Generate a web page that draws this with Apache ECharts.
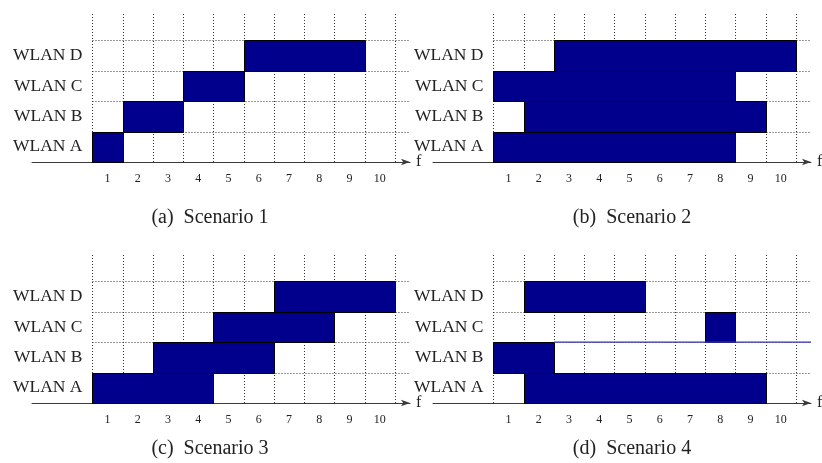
<!DOCTYPE html>
<html>
<head>
<meta charset="utf-8">
<script src="https://cdn.jsdelivr.net/npm/echarts@6/dist/echarts.min.js"></script>
<style>
html,body{margin:0;padding:0;background:#fff;}
#chart{width:822px;height:463px;}
</style>
</head>
<body>
<div id="chart"></div>
<script>
// ---- data ----
const wlanNames = ['WLAN A', 'WLAN B', 'WLAN C', 'WLAN D'];
const channels = [1, 2, 3, 4, 5, 6, 7, 8, 9, 10];
const scenarioTitles = ['(a)  Scenario 1', '(b)  Scenario 2', '(c)  Scenario 3', '(d)  Scenario 4'];
// first and last channel occupied by WLAN A..D
const s1Start = [1, 2, 4, 6];
const s1End   = [1, 3, 5, 9];
const s2Start = [1, 2, 1, 3];
const s2End   = [8, 9, 8, 10];
const s3Start = [1, 3, 5, 7];
const s3End   = [4, 6, 8, 10];
const s4Start = [2, 1, 8, 2];
const s4End   = [9, 2, 8, 5];
// extra thin line in scenario 4 (top edge of WLAN B row)
const s4LineX = [2.5, 11];
const s4LineY = [2, 2];

const starts = [s1Start, s2Start, s3Start, s4Start];
const ends = [s1End, s2End, s3End, s4End];

// ---- layout ----
const panels = [
  {left: 32, top: 12, tx: 205, ty: 203},
  {left: 433, top: 12, tx: 627, ty: 203},
  {left: 32, top: 253, tx: 205, ty: 434},
  {left: 433, top: 253, tx: 627, ty: 434}
];
const GW = 378, GH = 150;
const xMin = -1.5, xMax = 11, yMax = 4.93;
const pxPerUnit = GW / (xMax - xMin);
const serif = '"Liberation Serif", "DejaVu Serif", serif';
const barFill = '#00008c';

const vBounds = channels.map(c => c - 0.5).concat([channels[channels.length - 1] + 0.5]);
const hBounds = [1, 2, 3, 4];

const grids = [], xAxes = [], yAxes = [], series = [], titles = [];

panels.forEach((p, i) => {
  grids.push({left: p.left, top: p.top, width: GW, height: GH, containLabel: false, outerBoundsMode: 'none'});
  xAxes.push({
    type: 'value', gridIndex: i, min: xMin, max: xMax, interval: 0.5,
    name: 'f', nameLocation: 'end', nameGap: 6,
    nameTextStyle: {fontFamily: serif, fontSize: 16, color: '#222', padding: [2, 0, 0, 0]},
    axisLine: {show: true, symbol: ['none', 'arrow'], symbolSize: [5, 9], symbolOffset: [0, 0],
      lineStyle: {color: '#3a3a3a', width: 1}},
    axisTick: {show: false},
    splitLine: {show: false},
    axisLabel: {
      margin: 11, fontFamily: serif, fontSize: 12, color: '#222',
      formatter: v => (Number.isInteger(v) && channels.indexOf(v) >= 0) ? String(v) : ''
    }
  });
  yAxes.push({
    type: 'value', gridIndex: i, min: 0, max: yMax, interval: 0.5,
    offset: -(0.5 - xMin) * pxPerUnit,
    axisLine: {show: false}, axisTick: {show: false}, splitLine: {show: false},
    axisLabel: {
      margin: 10, fontFamily: serif, fontSize: 17.5, color: '#222',
      padding: [4, 0, 0, 0],
      formatter: v => {
        const k = Math.round(v - 0.5);
        return (Math.abs(v - 0.5 - k) < 1e-6 && k >= 0 && k < wlanNames.length) ? wlanNames[k] : '';
      }
    }
  });
  titles.push({
    text: scenarioTitles[i], left: p.tx, top: p.ty, textAlign: 'center',
    textStyle: {fontFamily: serif, fontSize: 20, fontWeight: 'normal', color: '#222'}
  });

  // dotted grid lines (vertical)
  series.push({
    type: 'custom', xAxisIndex: i, yAxisIndex: i, z: 1, silent: true,
    data: vBounds.map(v => [v]),
    encode: {x: 0},
    renderItem: (params, api) => {
      const a = api.coord([api.value(0), 0]);
      const b = api.coord([api.value(0), yMax]);
      const x = Math.round(a[0]) + 0.5;
      return {type: 'line', shape: {x1: x, y1: a[1], x2: x, y2: b[1]},
        style: {stroke: '#333', lineWidth: 1, lineDash: [1, 2]}};
    }
  });
  // dotted grid lines (horizontal)
  series.push({
    type: 'custom', xAxisIndex: i, yAxisIndex: i, z: 1, silent: true,
    data: hBounds.map(v => [v]),
    encode: {y: 0},
    renderItem: (params, api) => {
      const a = api.coord([vBounds[0], api.value(0)]);
      const b = api.coord([xMax, api.value(0)]);
      const y = Math.round(a[1]) + 0.5;
      return {type: 'line', shape: {x1: a[0], y1: y, x2: b[0], y2: y},
        style: {stroke: '#333', lineWidth: 1, lineDash: [1, 2]}};
    }
  });
  // WLAN occupancy bars
  series.push({
    type: 'custom', xAxisIndex: i, yAxisIndex: i, z: 3, silent: true,
    data: wlanNames.map((n, r) => [r, starts[i][r], ends[i][r]]),
    encode: {x: [1, 2], y: 0},
    renderItem: (params, api) => {
      const r = api.value(0), s = api.value(1), e = api.value(2);
      const p0 = api.coord([s - 0.5, r + 1]);
      const p1 = api.coord([e + 0.5, r]);
      const x0 = Math.round(p0[0]) + 0.5, y0 = Math.round(p0[1]) + 0.5;
      const x1 = Math.round(p1[0]) + 0.5, y1 = Math.round(p1[1]) + 0.5;
      return {type: 'rect', shape: {x: x0, y: y0, width: x1 - x0, height: y1 - y0},
        style: {fill: barFill, stroke: '#000', lineWidth: 1}};
    }
  });
});

// extra line in scenario 4
series.push({
  type: 'line', xAxisIndex: 3, yAxisIndex: 3, z: 4, silent: true,
  data: s4LineX.map((x, k) => [x, s4LineY[k]]),
  symbol: 'none', lineStyle: {color: '#3535b5', width: 1.1}
});

const chart = echarts.init(document.getElementById('chart'), null, {renderer: 'canvas'});
chart.setOption({
  animation: false,
  backgroundColor: '#fff',
  title: titles,
  grid: grids,
  xAxis: xAxes,
  yAxis: yAxes,
  series: series
});
</script>
</body>
</html>
